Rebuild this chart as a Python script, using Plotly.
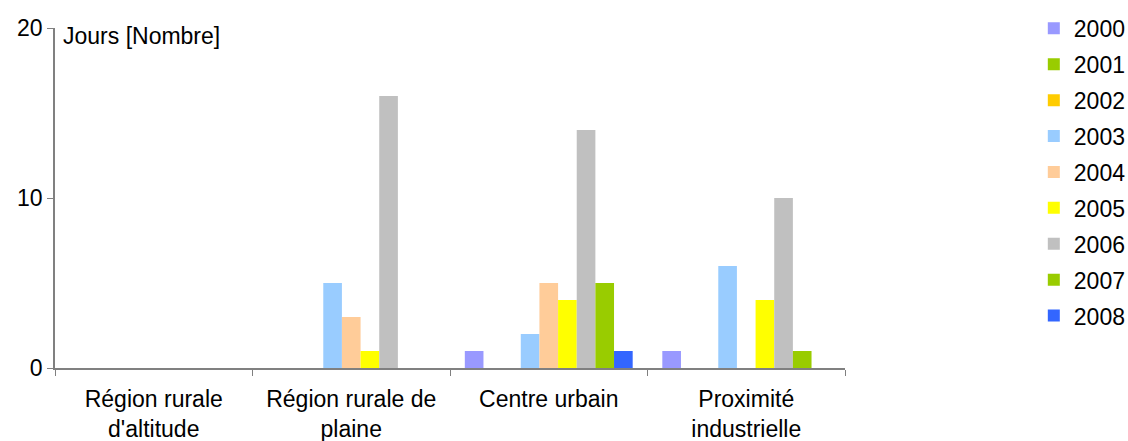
import plotly.graph_objects as go

categories = ["Région rurale<br>d'altitude", "Région rurale de<br>plaine", "Centre urbain", "Proximité<br>industrielle"]
years = ["2000", "2001", "2002", "2003", "2004", "2005", "2006", "2007", "2008"]
v2000 = [0, 0, 1, 1]
v2001 = [0, 0, 0, 0]
v2002 = [0, 0, 0, 0]
v2003 = [0, 5, 2, 6]
v2004 = [0, 3, 5, 0]
v2005 = [0, 1, 4, 4]
v2006 = [0, 16, 14, 10]
v2007 = [0, 0, 5, 1]
v2008 = [0, 0, 1, 0]
series = [v2000, v2001, v2002, v2003, v2004, v2005, v2006, v2007, v2008]
colors = ["#9999FF", "#99CC00", "#FFCC00", "#99CCFF", "#FFCC99", "#FFFF00", "#C0C0C0", "#99CC00", "#3366FF"]

font = "Liberation Sans, Arial, sans-serif"
fs = 23
fig = go.Figure()
for y, vals, c in zip(years, series, colors):
    fig.add_trace(go.Bar(name=y, x=categories, y=vals, marker=dict(color=c, line=dict(width=0)),
                         legendgroup=y))

fig.update_layout(
    width=1128, height=441,
    margin=dict(l=55, r=283, t=28, b=73, autoexpand=False),
    paper_bgcolor="white", plot_bgcolor="white",
    barmode="group", bargap=0.15, bargroupgap=0,
    font=dict(family=font, size=fs, color="black"),
    showlegend=True,
    legend=dict(x=1.239, xanchor="left", y=1.062, yanchor="top",
                font=dict(size=fs), tracegroupgap=3, itemwidth=30,
                maxheight=1, bgcolor="rgba(0,0,0,0)"),
    xaxis=dict(showline=True, linecolor="#808080", linewidth=1.5, ticks="outside",
               tickson="boundaries", ticklen=6, tickcolor="#808080", showgrid=False,
               tickfont=dict(size=fs), automargin=False, ticklabelstandoff=10),
    yaxis=dict(range=[0, 20], tickvals=[0, 10, 20], showline=True, linecolor="#808080",
               linewidth=1.5, ticks="outside", ticklen=6, tickcolor="#808080",
               showgrid=False, zeroline=False, tickfont=dict(size=fs), automargin=False),
    annotations=[dict(text="Jours [Nombre]", xref="paper", yref="paper", x=0.0076, y=1.02,
                      xanchor="left", yanchor="top", showarrow=False,
                      font=dict(size=fs, family=font))],
)
fig.write_html("out.html", config={"displayModeBar": False},
               post_script="document.body.style.margin='0';")
